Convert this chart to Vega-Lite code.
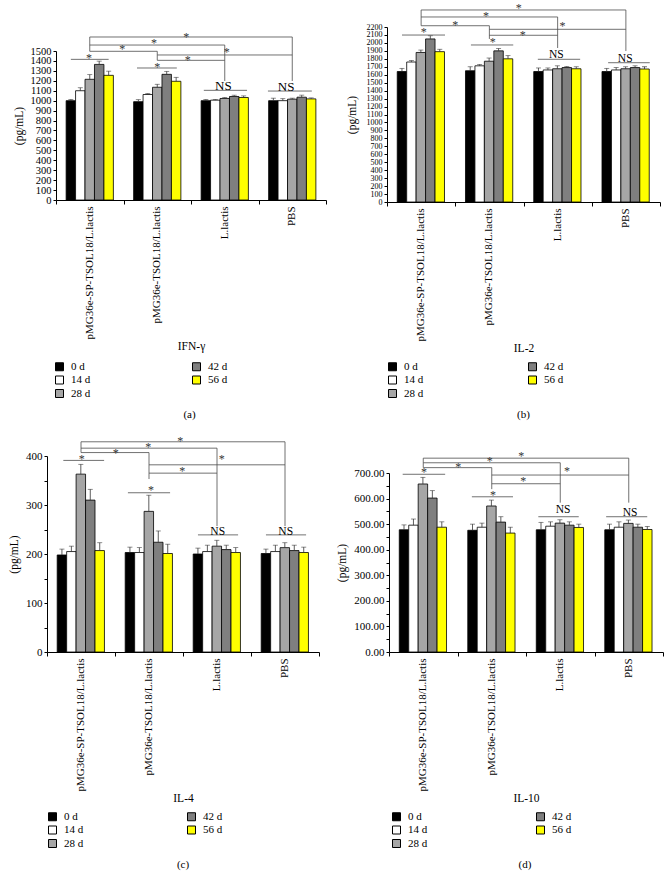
{
"$schema":"https://vega.github.io/schema/vega-lite/v6.json",
"padding":{"left":8,"top":1,"right":2,"bottom":2},
"config":{"font":"Liberation Serif","view":{"stroke":null},
"axis":{"labelFont":"Liberation Serif","titleFont":"Liberation Serif","labelFontSize":10.5,"titleFontSize":11.5,"titleFontWeight":"normal","labelColor":"#000","titleColor":"#000","domainColor":"#000","tickColor":"#000","grid":false,"labelOverlap":false},
"legend":{"labelFont":"Liberation Serif","labelFontSize":11,"labelColor":"#000"},
"title":{"font":"Liberation Serif","fontSize":11,"fontWeight":"normal","color":"#000"},
"text":{"font":"Liberation Serif"}},
"datasets":{
"bars":[
{"p":"a","g":"pMG36e-SP-TSOL18/L.lactis","t":"0 d","v":1000,"hi":1012},
{"p":"a","g":"pMG36e-SP-TSOL18/L.lactis","t":"14 d","v":1100,"hi":1130},
{"p":"a","g":"pMG36e-SP-TSOL18/L.lactis","t":"28 d","v":1215,"hi":1262},
{"p":"a","g":"pMG36e-SP-TSOL18/L.lactis","t":"42 d","v":1365,"hi":1398},
{"p":"a","g":"pMG36e-SP-TSOL18/L.lactis","t":"56 d","v":1255,"hi":1297},
{"p":"a","g":"pMG36e-TSOL18/L.lactis","t":"0 d","v":990,"hi":1010},
{"p":"a","g":"pMG36e-TSOL18/L.lactis","t":"14 d","v":1062,"hi":1072},
{"p":"a","g":"pMG36e-TSOL18/L.lactis","t":"28 d","v":1135,"hi":1165},
{"p":"a","g":"pMG36e-TSOL18/L.lactis","t":"42 d","v":1265,"hi":1295},
{"p":"a","g":"pMG36e-TSOL18/L.lactis","t":"56 d","v":1195,"hi":1235},
{"p":"a","g":"L.lactis","t":"0 d","v":1000,"hi":1012},
{"p":"a","g":"L.lactis","t":"14 d","v":1005,"hi":1012},
{"p":"a","g":"L.lactis","t":"28 d","v":1022,"hi":1032},
{"p":"a","g":"L.lactis","t":"42 d","v":1042,"hi":1055},
{"p":"a","g":"L.lactis","t":"56 d","v":1032,"hi":1048},
{"p":"a","g":"PBS","t":"0 d","v":1000,"hi":1025},
{"p":"a","g":"PBS","t":"14 d","v":1000,"hi":1020},
{"p":"a","g":"PBS","t":"28 d","v":1015,"hi":1025},
{"p":"a","g":"PBS","t":"42 d","v":1035,"hi":1055},
{"p":"a","g":"PBS","t":"56 d","v":1018,"hi":1028},
{"p":"b","g":"pMG36e-SP-TSOL18/L.lactis","t":"0 d","v":1640,"hi":1680},
{"p":"b","g":"pMG36e-SP-TSOL18/L.lactis","t":"14 d","v":1760,"hi":1778},
{"p":"b","g":"pMG36e-SP-TSOL18/L.lactis","t":"28 d","v":1880,"hi":1910},
{"p":"b","g":"pMG36e-SP-TSOL18/L.lactis","t":"42 d","v":2050,"hi":2090},
{"p":"b","g":"pMG36e-SP-TSOL18/L.lactis","t":"56 d","v":1890,"hi":1920},
{"p":"b","g":"pMG36e-TSOL18/L.lactis","t":"0 d","v":1650,"hi":1700},
{"p":"b","g":"pMG36e-TSOL18/L.lactis","t":"14 d","v":1712,"hi":1730},
{"p":"b","g":"pMG36e-TSOL18/L.lactis","t":"28 d","v":1770,"hi":1810},
{"p":"b","g":"pMG36e-TSOL18/L.lactis","t":"42 d","v":1900,"hi":1930},
{"p":"b","g":"pMG36e-TSOL18/L.lactis","t":"56 d","v":1800,"hi":1840},
{"p":"b","g":"L.lactis","t":"0 d","v":1640,"hi":1685},
{"p":"b","g":"L.lactis","t":"14 d","v":1660,"hi":1685},
{"p":"b","g":"L.lactis","t":"28 d","v":1675,"hi":1712},
{"p":"b","g":"L.lactis","t":"42 d","v":1690,"hi":1705},
{"p":"b","g":"L.lactis","t":"56 d","v":1675,"hi":1700},
{"p":"b","g":"PBS","t":"0 d","v":1640,"hi":1680},
{"p":"b","g":"PBS","t":"14 d","v":1660,"hi":1690},
{"p":"b","g":"PBS","t":"28 d","v":1675,"hi":1700},
{"p":"b","g":"PBS","t":"42 d","v":1690,"hi":1712},
{"p":"b","g":"PBS","t":"56 d","v":1672,"hi":1700},
{"p":"c","g":"pMG36e-SP-TSOL18/L.lactis","t":"0 d","v":198,"hi":210},
{"p":"c","g":"pMG36e-SP-TSOL18/L.lactis","t":"14 d","v":205,"hi":216},
{"p":"c","g":"pMG36e-SP-TSOL18/L.lactis","t":"28 d","v":363,"hi":383},
{"p":"c","g":"pMG36e-SP-TSOL18/L.lactis","t":"42 d","v":310,"hi":332},
{"p":"c","g":"pMG36e-SP-TSOL18/L.lactis","t":"56 d","v":207,"hi":223},
{"p":"c","g":"pMG36e-TSOL18/L.lactis","t":"0 d","v":203,"hi":214},
{"p":"c","g":"pMG36e-TSOL18/L.lactis","t":"14 d","v":203,"hi":213},
{"p":"c","g":"pMG36e-TSOL18/L.lactis","t":"28 d","v":287,"hi":320},
{"p":"c","g":"pMG36e-TSOL18/L.lactis","t":"42 d","v":224,"hi":247},
{"p":"c","g":"pMG36e-TSOL18/L.lactis","t":"56 d","v":201,"hi":220},
{"p":"c","g":"L.lactis","t":"0 d","v":200,"hi":212},
{"p":"c","g":"L.lactis","t":"14 d","v":205,"hi":218},
{"p":"c","g":"L.lactis","t":"28 d","v":216,"hi":228},
{"p":"c","g":"L.lactis","t":"42 d","v":209,"hi":218},
{"p":"c","g":"L.lactis","t":"56 d","v":203,"hi":213},
{"p":"c","g":"PBS","t":"0 d","v":201,"hi":210},
{"p":"c","g":"PBS","t":"14 d","v":205,"hi":218},
{"p":"c","g":"PBS","t":"28 d","v":213,"hi":223},
{"p":"c","g":"PBS","t":"42 d","v":207,"hi":218},
{"p":"c","g":"PBS","t":"56 d","v":203,"hi":214},
{"p":"d","g":"pMG36e-SP-TSOL18/L.lactis","t":"0 d","v":478,"hi":497},
{"p":"d","g":"pMG36e-SP-TSOL18/L.lactis","t":"14 d","v":496,"hi":520},
{"p":"d","g":"pMG36e-SP-TSOL18/L.lactis","t":"28 d","v":657,"hi":683},
{"p":"d","g":"pMG36e-SP-TSOL18/L.lactis","t":"42 d","v":602,"hi":631},
{"p":"d","g":"pMG36e-SP-TSOL18/L.lactis","t":"56 d","v":488,"hi":509},
{"p":"d","g":"pMG36e-TSOL18/L.lactis","t":"0 d","v":476,"hi":500},
{"p":"d","g":"pMG36e-TSOL18/L.lactis","t":"14 d","v":488,"hi":504},
{"p":"d","g":"pMG36e-TSOL18/L.lactis","t":"28 d","v":571,"hi":594},
{"p":"d","g":"pMG36e-TSOL18/L.lactis","t":"42 d","v":508,"hi":529},
{"p":"d","g":"pMG36e-TSOL18/L.lactis","t":"56 d","v":465,"hi":488},
{"p":"d","g":"L.lactis","t":"0 d","v":478,"hi":507},
{"p":"d","g":"L.lactis","t":"14 d","v":492,"hi":509},
{"p":"d","g":"L.lactis","t":"28 d","v":504,"hi":517},
{"p":"d","g":"L.lactis","t":"42 d","v":496,"hi":509},
{"p":"d","g":"L.lactis","t":"56 d","v":487,"hi":500},
{"p":"d","g":"PBS","t":"0 d","v":478,"hi":500},
{"p":"d","g":"PBS","t":"14 d","v":488,"hi":509},
{"p":"d","g":"PBS","t":"28 d","v":503,"hi":516},
{"p":"d","g":"PBS","t":"42 d","v":488,"hi":500},
{"p":"d","g":"PBS","t":"56 d","v":479,"hi":491}
],
"seg":[
{"p":"a","x1":0.5,"x2":3.5,"y1":1641,"y2":1641},
{"p":"a","x1":0.5,"x2":2.5,"y1":1560,"y2":1560},
{"p":"a","x1":0.5,"x2":1.5,"y1":1497,"y2":1497},
{"p":"a","x1":1.5,"x2":3.5,"y1":1460,"y2":1460},
{"p":"a","x1":1.5,"x2":2.5,"y1":1406,"y2":1406},
{"p":"a","x1":0.22,"x2":0.78,"y1":1416,"y2":1416},
{"p":"a","x1":1.2,"x2":1.79,"y1":1329,"y2":1329},
{"p":"a","x1":2.19,"x2":2.83,"y1":1104,"y2":1104},
{"p":"a","x1":3.14,"x2":3.79,"y1":1097,"y2":1097},
{"p":"a","x1":0.5,"x2":0.5,"y1":1641,"y2":1497},
{"p":"a","x1":1.5,"x2":1.5,"y1":1497,"y2":1406},
{"p":"a","x1":2.5,"x2":2.5,"y1":1560,"y2":1198},
{"p":"a","x1":3.5,"x2":3.5,"y1":1641,"y2":1198},
{"p":"b","x1":0.5,"x2":3.5,"y1":2414,"y2":2414},
{"p":"b","x1":0.5,"x2":2.5,"y1":2326,"y2":2326},
{"p":"b","x1":0.5,"x2":1.5,"y1":2216,"y2":2216},
{"p":"b","x1":1.5,"x2":3.5,"y1":2171,"y2":2171},
{"p":"b","x1":1.5,"x2":2.5,"y1":2096,"y2":2096},
{"p":"b","x1":0.22,"x2":0.85,"y1":2099,"y2":2099},
{"p":"b","x1":1.23,"x2":1.85,"y1":1974,"y2":1974},
{"p":"b","x1":2.21,"x2":2.83,"y1":1794,"y2":1794},
{"p":"b","x1":3.24,"x2":3.85,"y1":1751,"y2":1751},
{"p":"b","x1":0.5,"x2":0.5,"y1":2414,"y2":2216},
{"p":"b","x1":1.5,"x2":1.5,"y1":2216,"y2":2050},
{"p":"b","x1":2.5,"x2":2.5,"y1":2326,"y2":1936},
{"p":"b","x1":3.5,"x2":3.5,"y1":2414,"y2":1898},
{"p":"c","x1":0.5,"x2":3.5,"y1":429,"y2":429},
{"p":"c","x1":0.5,"x2":2.5,"y1":416,"y2":416},
{"p":"c","x1":0.5,"x2":1.5,"y1":407,"y2":407},
{"p":"c","x1":1.5,"x2":3.5,"y1":382,"y2":382},
{"p":"c","x1":1.5,"x2":2.5,"y1":365,"y2":365},
{"p":"c","x1":0.24,"x2":0.84,"y1":391,"y2":391},
{"p":"c","x1":1.19,"x2":1.81,"y1":325,"y2":325},
{"p":"c","x1":2.22,"x2":2.81,"y1":239,"y2":239},
{"p":"c","x1":3.22,"x2":3.81,"y1":239,"y2":239},
{"p":"c","x1":0.5,"x2":0.5,"y1":429,"y2":407},
{"p":"c","x1":1.5,"x2":1.5,"y1":407,"y2":353},
{"p":"c","x1":2.5,"x2":2.5,"y1":416,"y2":257},
{"p":"c","x1":3.5,"x2":3.5,"y1":429,"y2":257},
{"p":"d","x1":0.5,"x2":3.5,"y1":758,"y2":758},
{"p":"d","x1":0.5,"x2":2.5,"y1":740,"y2":740},
{"p":"d","x1":0.5,"x2":1.5,"y1":721,"y2":721},
{"p":"d","x1":1.5,"x2":3.5,"y1":692,"y2":692},
{"p":"d","x1":1.5,"x2":2.5,"y1":658,"y2":658},
{"p":"d","x1":0.2,"x2":0.82,"y1":695,"y2":695},
{"p":"d","x1":1.21,"x2":1.81,"y1":607,"y2":607},
{"p":"d","x1":2.18,"x2":2.77,"y1":529,"y2":529},
{"p":"d","x1":3.17,"x2":3.77,"y1":529,"y2":529},
{"p":"d","x1":0.5,"x2":0.5,"y1":758,"y2":721},
{"p":"d","x1":1.5,"x2":1.5,"y1":721,"y2":637},
{"p":"d","x1":2.5,"x2":2.5,"y1":740,"y2":584},
{"p":"d","x1":3.5,"x2":3.5,"y1":758,"y2":584}
],
"lab":[
{"p":"a","x":1.93,"y":1641,"s":"*"},{"p":"a","x":1.45,"y":1580,"s":"*"},{"p":"a","x":0.98,"y":1520,"s":"*"},{"p":"a","x":2.53,"y":1490,"s":"*"},{"p":"a","x":1.95,"y":1412,"s":"*"},{"p":"a","x":0.49,"y":1430,"s":"*"},{"p":"a","x":1.5,"y":1336,"s":"*"},{"p":"a","x":2.48,"y":1148,"s":"NS"},{"p":"a","x":3.41,"y":1138,"s":"NS"},
{"p":"b","x":1.93,"y":2439,"s":"*"},{"p":"b","x":1.45,"y":2338,"s":"*"},{"p":"b","x":1.0,"y":2229,"s":"*"},{"p":"b","x":2.57,"y":2209,"s":"*"},{"p":"b","x":1.99,"y":2103,"s":"*"},{"p":"b","x":0.54,"y":2133,"s":"*"},{"p":"b","x":1.55,"y":2008,"s":"*"},{"p":"b","x":2.48,"y":1844,"s":"NS"},{"p":"b","x":3.49,"y":1801,"s":"NS"},
{"p":"c","x":1.96,"y":431,"s":"*"},{"p":"c","x":1.49,"y":418,"s":"*"},{"p":"c","x":1.01,"y":406,"s":"*"},{"p":"c","x":2.57,"y":394,"s":"*"},{"p":"c","x":1.99,"y":369,"s":"*"},{"p":"c","x":0.51,"y":394,"s":"*"},{"p":"c","x":1.53,"y":331,"s":"*"},{"p":"c","x":2.51,"y":245,"s":"NS"},{"p":"c","x":3.51,"y":245,"s":"NS"},
{"p":"d","x":1.93,"y":765,"s":"*"},{"p":"d","x":1.47,"y":746,"s":"*"},{"p":"d","x":1.01,"y":722,"s":"*"},{"p":"d","x":2.6,"y":707,"s":"*"},{"p":"d","x":1.96,"y":668,"s":"*"},{"p":"d","x":0.51,"y":703,"s":"*"},{"p":"d","x":1.52,"y":615,"s":"*"},{"p":"d","x":2.54,"y":554,"s":"NS"},{"p":"d","x":3.52,"y":544,"s":"NS"}
]
},
"columns":2,
"bounds":"flush",
"spacing":{"row":254,"column":61},
"resolve":{"scale":{"fill":"independent"},"legend":{"fill":"independent"}},
"concat":[
{
"width":279,"height":173,
"title":{"text":"(a)","orient":"bottom","frame":"group","anchor":"middle","offset":9,"dx":3},
"layer":[
{"data":{"name":"bars"},"transform":[{"filter":"datum.p === 'a'"}],
"encoding":{
"x":{"field":"g","type":"nominal","sort":["pMG36e-SP-TSOL18/L.lactis","pMG36e-TSOL18/L.lactis","L.lactis","PBS"],"scale":{"range":[9,279],"paddingInner":0.3,"paddingOuter":0.15},"axis":{"orient":"bottom","domain":false,"ticks":false,"labelAngle":-90,"labelPadding":6,"labelFontSize":11,"title":"IFN-γ","titlePadding":2}},
"xOffset":{"field":"t","type":"nominal","sort":["0 d","14 d","28 d","42 d","56 d"]}},
"layer":[
{"mark":{"type":"bar","stroke":"#000","strokeWidth":0.8},
"encoding":{"y":{"field":"v","type":"quantitative","scale":{"domain":[0,1500],"range":[173,24],"nice":false},"axis":{"orient":"left","offset":-9,"values":[0,100,200,300,400,500,600,700,800,900,1000,1100,1200,1300,1400,1500],"format":"d","labelOverlap":false,"labelFlush":false,"tickSize":3,"labelPadding":2,"title":"(pg/mL)","titlePadding":6}},
"fill":{"field":"t","type":"nominal","scale":{"domain":["0 d","14 d","28 d","42 d","56 d"],"range":["#000000","#ffffff","#a6a6a6","#7f7f7f","#ffff00"]},"legend":{"title":null,"orient":"none","legendX":7,"legendY":334,"columns":2,"columnPadding":99,"rowPadding":0.5,"symbolType":"square","symbolSize":64,"symbolStrokeColor":"#000","symbolStrokeWidth":1,"labelOffset":6,"padding":0}}}},
{"mark":{"type":"rule","color":"#333","strokeWidth":0.8},"encoding":{"y":{"field":"v","type":"quantitative","scale":{"domain":[0,1500],"range":[173,24],"nice":false},"axis":{"orient":"left","offset":-9,"values":[0,100,200,300,400,500,600,700,800,900,1000,1100,1200,1300,1400,1500],"format":"d","labelOverlap":false,"labelFlush":false,"tickSize":3,"labelPadding":2,"title":"(pg/mL)","titlePadding":6}},"y2":{"field":"hi"}}},
{"mark":{"type":"tick","color":"#333","size":5,"thickness":0.8},"encoding":{"y":{"field":"hi","type":"quantitative","scale":{"domain":[0,1500],"range":[173,24],"nice":false},"axis":{"orient":"left","offset":-9,"values":[0,100,200,300,400,500,600,700,800,900,1000,1100,1200,1300,1400,1500],"format":"d","labelOverlap":false,"labelFlush":false,"tickSize":3,"labelPadding":2,"title":"(pg/mL)","titlePadding":6}}}}
]},
{"layer":[
{"data":{"name":"seg"},"transform":[{"filter":"datum.p === 'a'"}],"mark":{"type":"rule","color":"#4d4d4d","strokeWidth":0.8},
"encoding":{"x":{"field":"x1","type":"quantitative","scale":{"domain":[0,4],"range":[9,279],"nice":false,"zero":false},"axis":{"orient":"bottom","values":[0,1,2,3,4],"labels":false,"tickSize":4,"title":null,"domain":true}},"x2":{"field":"x2"},
"y":{"field":"y1","type":"quantitative","scale":{"domain":[0,1500],"range":[173,24],"nice":false},"axis":{"orient":"left","offset":-9,"values":[0,100,200,300,400,500,600,700,800,900,1000,1100,1200,1300,1400,1500],"format":"d","labelOverlap":false,"labelFlush":false,"tickSize":3,"labelPadding":2,"title":"(pg/mL)","titlePadding":6}},"y2":{"field":"y2"}}},
{"data":{"name":"lab"},"transform":[{"filter":"datum.p === 'a' && datum.s === '*'"}],"mark":{"type":"text","fontSize":12,"baseline":"middle","color":"#333"},
"encoding":{"x":{"field":"x","type":"quantitative","scale":{"domain":[0,4],"range":[9,279],"nice":false,"zero":false},"axis":{"orient":"bottom","values":[0,1,2,3,4],"labels":false,"tickSize":4,"title":null,"domain":true}},"y":{"field":"y","type":"quantitative","scale":{"domain":[0,1500],"range":[173,24],"nice":false},"axis":{"orient":"left","offset":-9,"values":[0,100,200,300,400,500,600,700,800,900,1000,1100,1200,1300,1400,1500],"format":"d","labelOverlap":false,"labelFlush":false,"tickSize":3,"labelPadding":2,"title":"(pg/mL)","titlePadding":6}},"text":{"field":"s"}}},
{"data":{"name":"lab"},"transform":[{"filter":"datum.p === 'a' && datum.s === 'NS'"}],"mark":{"type":"text","fontSize":13,"baseline":"middle","color":"#000"},
"encoding":{"x":{"field":"x","type":"quantitative","scale":{"domain":[0,4],"range":[9,279],"nice":false,"zero":false},"axis":{"orient":"bottom","values":[0,1,2,3,4],"labels":false,"tickSize":4,"title":null,"domain":true}},"y":{"field":"y","type":"quantitative","scale":{"domain":[0,1500],"range":[173,24],"nice":false},"axis":{"orient":"left","offset":-9,"values":[0,100,200,300,400,500,600,700,800,900,1000,1100,1200,1300,1400,1500],"format":"d","labelOverlap":false,"labelFlush":false,"tickSize":3,"labelPadding":2,"title":"(pg/mL)","titlePadding":6}},"text":{"field":"s"}}}
]}
],
"resolve":{"scale":{"x":"independent"}}
},
{
"width":273,"height":175,
"title":{"text":"(b)","orient":"bottom","frame":"group","anchor":"middle","offset":9},
"layer":[
{"data":{"name":"bars"},"transform":[{"filter":"datum.p === 'b'"}],
"encoding":{
"x":{"field":"g","type":"nominal","sort":["pMG36e-SP-TSOL18/L.lactis","pMG36e-TSOL18/L.lactis","L.lactis","PBS"],"scale":{"range":[0,273],"paddingInner":0.3,"paddingOuter":0.15},"axis":{"orient":"bottom","domain":false,"ticks":false,"labelAngle":-90,"labelPadding":6,"labelFontSize":11,"title":"IL-2","titlePadding":2}},
"xOffset":{"field":"t","type":"nominal","sort":["0 d","14 d","28 d","42 d","56 d"]}},
"layer":[
{"mark":{"type":"bar","stroke":"#000","strokeWidth":0.8},
"encoding":{"y":{"field":"v","type":"quantitative","scale":{"domain":[0,2200],"range":[175,0],"nice":false},"axis":{"orient":"left","values":[0,100,200,300,400,500,600,700,800,900,1000,1100,1200,1300,1400,1500,1600,1700,1800,1900,2000,2100,2200],"format":"d","labelOverlap":false,"labelFlush":false,"labelFontSize":8,"tickSize":3,"labelPadding":2,"title":"(pg/mL)","titlePadding":9}},
"fill":{"field":"t","type":"nominal","scale":{"domain":["0 d","14 d","28 d","42 d","56 d"],"range":["#000000","#ffffff","#a6a6a6","#7f7f7f","#ffff00"]},"legend":{"title":null,"orient":"none","legendX":0,"legendY":334,"columns":2,"columnPadding":102,"rowPadding":0.5,"symbolType":"square","symbolSize":64,"symbolStrokeColor":"#000","symbolStrokeWidth":1,"labelOffset":6,"padding":0}}}},
{"mark":{"type":"rule","color":"#333","strokeWidth":0.8},"encoding":{"y":{"field":"v","type":"quantitative","scale":{"domain":[0,2200],"range":[175,0],"nice":false},"axis":{"orient":"left","values":[0,100,200,300,400,500,600,700,800,900,1000,1100,1200,1300,1400,1500,1600,1700,1800,1900,2000,2100,2200],"format":"d","labelOverlap":false,"labelFlush":false,"labelFontSize":8,"tickSize":3,"labelPadding":2,"title":"(pg/mL)","titlePadding":9}},"y2":{"field":"hi"}}},
{"mark":{"type":"tick","color":"#333","size":5,"thickness":0.8},"encoding":{"y":{"field":"hi","type":"quantitative","scale":{"domain":[0,2200],"range":[175,0],"nice":false},"axis":{"orient":"left","values":[0,100,200,300,400,500,600,700,800,900,1000,1100,1200,1300,1400,1500,1600,1700,1800,1900,2000,2100,2200],"format":"d","labelOverlap":false,"labelFlush":false,"labelFontSize":8,"tickSize":3,"labelPadding":2,"title":"(pg/mL)","titlePadding":9}}}}
]},
{"layer":[
{"data":{"name":"seg"},"transform":[{"filter":"datum.p === 'b'"}],"mark":{"type":"rule","color":"#4d4d4d","strokeWidth":0.8},
"encoding":{"x":{"field":"x1","type":"quantitative","scale":{"domain":[0,4],"range":[0,273],"nice":false,"zero":false},"axis":{"orient":"bottom","values":[0,1,2,3,4],"labels":false,"tickSize":4,"title":null,"domain":true}},"x2":{"field":"x2"},
"y":{"field":"y1","type":"quantitative","scale":{"domain":[0,2200],"range":[175,0],"nice":false},"axis":{"orient":"left","values":[0,100,200,300,400,500,600,700,800,900,1000,1100,1200,1300,1400,1500,1600,1700,1800,1900,2000,2100,2200],"format":"d","labelOverlap":false,"labelFlush":false,"labelFontSize":8,"tickSize":3,"labelPadding":2,"title":"(pg/mL)","titlePadding":9}},"y2":{"field":"y2"}}},
{"data":{"name":"lab"},"transform":[{"filter":"datum.p === 'b' && datum.s === '*'"}],"mark":{"type":"text","fontSize":12,"baseline":"middle","color":"#333"},
"encoding":{"x":{"field":"x","type":"quantitative","scale":{"domain":[0,4],"range":[0,273],"nice":false,"zero":false},"axis":{"orient":"bottom","values":[0,1,2,3,4],"labels":false,"tickSize":4,"title":null,"domain":true}},"y":{"field":"y","type":"quantitative","scale":{"domain":[0,2200],"range":[175,0],"nice":false},"axis":{"orient":"left","values":[0,100,200,300,400,500,600,700,800,900,1000,1100,1200,1300,1400,1500,1600,1700,1800,1900,2000,2100,2200],"format":"d","labelOverlap":false,"labelFlush":false,"labelFontSize":8,"tickSize":3,"labelPadding":2,"title":"(pg/mL)","titlePadding":9}},"text":{"field":"s"}}},
{"data":{"name":"lab"},"transform":[{"filter":"datum.p === 'b' && datum.s === 'NS'"}],"mark":{"type":"text","fontSize":11.5,"baseline":"middle","color":"#000"},
"encoding":{"x":{"field":"x","type":"quantitative","scale":{"domain":[0,4],"range":[0,273],"nice":false,"zero":false},"axis":{"orient":"bottom","values":[0,1,2,3,4],"labels":false,"tickSize":4,"title":null,"domain":true}},"y":{"field":"y","type":"quantitative","scale":{"domain":[0,2200],"range":[175,0],"nice":false},"axis":{"orient":"left","values":[0,100,200,300,400,500,600,700,800,900,1000,1100,1200,1300,1400,1500,1600,1700,1800,1900,2000,2100,2200],"format":"d","labelOverlap":false,"labelFlush":false,"labelFontSize":8,"tickSize":3,"labelPadding":2,"title":"(pg/mL)","titlePadding":9}},"text":{"field":"s"}}}
]}
],
"resolve":{"scale":{"x":"independent"}}
},
{
"width":272,"height":196,
"title":{"text":"(c)","orient":"bottom","frame":"group","anchor":"middle","offset":9},
"layer":[
{"data":{"name":"bars"},"transform":[{"filter":"datum.p === 'c'"}],
"encoding":{
"x":{"field":"g","type":"nominal","sort":["pMG36e-SP-TSOL18/L.lactis","pMG36e-TSOL18/L.lactis","L.lactis","PBS"],"scale":{"range":[0,272],"paddingInner":0.3,"paddingOuter":0.15},"axis":{"orient":"bottom","domain":false,"ticks":false,"labelAngle":-90,"labelPadding":6,"labelFontSize":11,"title":"IL-4","titlePadding":2}},
"xOffset":{"field":"t","type":"nominal","sort":["0 d","14 d","28 d","42 d","56 d"]}},
"layer":[
{"mark":{"type":"bar","stroke":"#000","strokeWidth":0.8},
"encoding":{"y":{"field":"v","type":"quantitative","scale":{"domain":[0,400],"range":[196,0],"nice":false},"axis":{"orient":"left","values":[0,50,100,150,200,250,300,350,400],"format":"d","labelExpr":"datum.value % 100 === 0 ? datum.label : ''","labelOverlap":false,"labelFlush":false,"labelFontSize":11,"tickSize":3,"labelPadding":2,"title":"(pg/mL)","titlePadding":6}},
"fill":{"field":"t","type":"nominal","scale":{"domain":["0 d","14 d","28 d","42 d","56 d"],"range":["#000000","#ffffff","#a6a6a6","#7f7f7f","#ffff00"]},"legend":{"title":null,"orient":"none","legendX":0,"legendY":355,"columns":2,"columnPadding":101,"rowPadding":0.5,"symbolType":"square","symbolSize":64,"symbolStrokeColor":"#000","symbolStrokeWidth":1,"labelOffset":6,"padding":0}}}},
{"mark":{"type":"rule","color":"#333","strokeWidth":0.8},"encoding":{"y":{"field":"v","type":"quantitative","scale":{"domain":[0,400],"range":[196,0],"nice":false},"axis":{"orient":"left","values":[0,50,100,150,200,250,300,350,400],"format":"d","labelExpr":"datum.value % 100 === 0 ? datum.label : ''","labelOverlap":false,"labelFlush":false,"labelFontSize":11,"tickSize":3,"labelPadding":2,"title":"(pg/mL)","titlePadding":6}},"y2":{"field":"hi"}}},
{"mark":{"type":"tick","color":"#333","size":5,"thickness":0.8},"encoding":{"y":{"field":"hi","type":"quantitative","scale":{"domain":[0,400],"range":[196,0],"nice":false},"axis":{"orient":"left","values":[0,50,100,150,200,250,300,350,400],"format":"d","labelExpr":"datum.value % 100 === 0 ? datum.label : ''","labelOverlap":false,"labelFlush":false,"labelFontSize":11,"tickSize":3,"labelPadding":2,"title":"(pg/mL)","titlePadding":6}}}}
]},
{"layer":[
{"data":{"name":"seg"},"transform":[{"filter":"datum.p === 'c'"}],"mark":{"type":"rule","color":"#4d4d4d","strokeWidth":0.8},
"encoding":{"x":{"field":"x1","type":"quantitative","scale":{"domain":[0,4],"range":[0,272],"nice":false,"zero":false},"axis":{"orient":"bottom","values":[0,1,2,3,4],"labels":false,"tickSize":4,"title":null,"domain":true}},"x2":{"field":"x2"},
"y":{"field":"y1","type":"quantitative","scale":{"domain":[0,400],"range":[196,0],"nice":false},"axis":{"orient":"left","values":[0,50,100,150,200,250,300,350,400],"format":"d","labelExpr":"datum.value % 100 === 0 ? datum.label : ''","labelOverlap":false,"labelFlush":false,"labelFontSize":11,"tickSize":3,"labelPadding":2,"title":"(pg/mL)","titlePadding":6}},"y2":{"field":"y2"}}},
{"data":{"name":"lab"},"transform":[{"filter":"datum.p === 'c' && datum.s === '*'"}],"mark":{"type":"text","fontSize":12,"baseline":"middle","color":"#333"},
"encoding":{"x":{"field":"x","type":"quantitative","scale":{"domain":[0,4],"range":[0,272],"nice":false,"zero":false},"axis":{"orient":"bottom","values":[0,1,2,3,4],"labels":false,"tickSize":4,"title":null,"domain":true}},"y":{"field":"y","type":"quantitative","scale":{"domain":[0,400],"range":[196,0],"nice":false},"axis":{"orient":"left","values":[0,50,100,150,200,250,300,350,400],"format":"d","labelExpr":"datum.value % 100 === 0 ? datum.label : ''","labelOverlap":false,"labelFlush":false,"labelFontSize":11,"tickSize":3,"labelPadding":2,"title":"(pg/mL)","titlePadding":6}},"text":{"field":"s"}}},
{"data":{"name":"lab"},"transform":[{"filter":"datum.p === 'c' && datum.s === 'NS'"}],"mark":{"type":"text","fontSize":11.5,"baseline":"middle","color":"#000"},
"encoding":{"x":{"field":"x","type":"quantitative","scale":{"domain":[0,4],"range":[0,272],"nice":false,"zero":false},"axis":{"orient":"bottom","values":[0,1,2,3,4],"labels":false,"tickSize":4,"title":null,"domain":true}},"y":{"field":"y","type":"quantitative","scale":{"domain":[0,400],"range":[196,0],"nice":false},"axis":{"orient":"left","values":[0,50,100,150,200,250,300,350,400],"format":"d","labelExpr":"datum.value % 100 === 0 ? datum.label : ''","labelOverlap":false,"labelFlush":false,"labelFontSize":11,"tickSize":3,"labelPadding":2,"title":"(pg/mL)","titlePadding":6}},"text":{"field":"s"}}}
]}
],
"resolve":{"scale":{"x":"independent"}}
},
{
"width":276,"height":196,
"title":{"text":"(d)","orient":"bottom","frame":"group","anchor":"middle","offset":9},
"layer":[
{"data":{"name":"bars"},"transform":[{"filter":"datum.p === 'd'"}],
"encoding":{
"x":{"field":"g","type":"nominal","sort":["pMG36e-SP-TSOL18/L.lactis","pMG36e-TSOL18/L.lactis","L.lactis","PBS"],"scale":{"range":[2,276],"paddingInner":0.3,"paddingOuter":0.15},"axis":{"orient":"bottom","domain":false,"ticks":false,"labelAngle":-90,"labelPadding":6,"labelFontSize":11,"title":"IL-10","titlePadding":2}},
"xOffset":{"field":"t","type":"nominal","sort":["0 d","14 d","28 d","42 d","56 d"]}},
"layer":[
{"mark":{"type":"bar","stroke":"#000","strokeWidth":0.8},
"encoding":{"y":{"field":"v","type":"quantitative","scale":{"domain":[0,700],"range":[196,17],"nice":false},"axis":{"orient":"left","offset":-2,"values":[0,50,100,150,200,250,300,350,400,450,500,550,600,650,700],"format":".2f","labelExpr":"datum.value % 100 === 0 ? datum.label : ''","labelOverlap":false,"labelFlush":false,"labelFontSize":11,"tickSize":3,"labelPadding":2,"title":"(pg/mL)","titlePadding":6}},
"fill":{"field":"t","type":"nominal","scale":{"domain":["0 d","14 d","28 d","42 d","56 d"],"range":["#000000","#ffffff","#a6a6a6","#7f7f7f","#ffff00"]},"legend":{"title":null,"orient":"none","legendX":4,"legendY":355,"columns":2,"columnPadding":106,"rowPadding":0.5,"symbolType":"square","symbolSize":64,"symbolStrokeColor":"#000","symbolStrokeWidth":1,"labelOffset":6,"padding":0}}}},
{"mark":{"type":"rule","color":"#333","strokeWidth":0.8},"encoding":{"y":{"field":"v","type":"quantitative","scale":{"domain":[0,700],"range":[196,17],"nice":false},"axis":{"orient":"left","offset":-2,"values":[0,50,100,150,200,250,300,350,400,450,500,550,600,650,700],"format":".2f","labelExpr":"datum.value % 100 === 0 ? datum.label : ''","labelOverlap":false,"labelFlush":false,"labelFontSize":11,"tickSize":3,"labelPadding":2,"title":"(pg/mL)","titlePadding":6}},"y2":{"field":"hi"}}},
{"mark":{"type":"tick","color":"#333","size":5,"thickness":0.8},"encoding":{"y":{"field":"hi","type":"quantitative","scale":{"domain":[0,700],"range":[196,17],"nice":false},"axis":{"orient":"left","offset":-2,"values":[0,50,100,150,200,250,300,350,400,450,500,550,600,650,700],"format":".2f","labelExpr":"datum.value % 100 === 0 ? datum.label : ''","labelOverlap":false,"labelFlush":false,"labelFontSize":11,"tickSize":3,"labelPadding":2,"title":"(pg/mL)","titlePadding":6}}}}
]},
{"layer":[
{"data":{"name":"seg"},"transform":[{"filter":"datum.p === 'd'"}],"mark":{"type":"rule","color":"#4d4d4d","strokeWidth":0.8},
"encoding":{"x":{"field":"x1","type":"quantitative","scale":{"domain":[0,4],"range":[2,276],"nice":false,"zero":false},"axis":{"orient":"bottom","values":[0,1,2,3,4],"labels":false,"tickSize":4,"title":null,"domain":true}},"x2":{"field":"x2"},
"y":{"field":"y1","type":"quantitative","scale":{"domain":[0,700],"range":[196,17],"nice":false},"axis":{"orient":"left","offset":-2,"values":[0,50,100,150,200,250,300,350,400,450,500,550,600,650,700],"format":".2f","labelExpr":"datum.value % 100 === 0 ? datum.label : ''","labelOverlap":false,"labelFlush":false,"labelFontSize":11,"tickSize":3,"labelPadding":2,"title":"(pg/mL)","titlePadding":6}},"y2":{"field":"y2"}}},
{"data":{"name":"lab"},"transform":[{"filter":"datum.p === 'd' && datum.s === '*'"}],"mark":{"type":"text","fontSize":12,"baseline":"middle","color":"#333"},
"encoding":{"x":{"field":"x","type":"quantitative","scale":{"domain":[0,4],"range":[2,276],"nice":false,"zero":false},"axis":{"orient":"bottom","values":[0,1,2,3,4],"labels":false,"tickSize":4,"title":null,"domain":true}},"y":{"field":"y","type":"quantitative","scale":{"domain":[0,700],"range":[196,17],"nice":false},"axis":{"orient":"left","offset":-2,"values":[0,50,100,150,200,250,300,350,400,450,500,550,600,650,700],"format":".2f","labelExpr":"datum.value % 100 === 0 ? datum.label : ''","labelOverlap":false,"labelFlush":false,"labelFontSize":11,"tickSize":3,"labelPadding":2,"title":"(pg/mL)","titlePadding":6}},"text":{"field":"s"}}},
{"data":{"name":"lab"},"transform":[{"filter":"datum.p === 'd' && datum.s === 'NS'"}],"mark":{"type":"text","fontSize":11.5,"baseline":"middle","color":"#000"},
"encoding":{"x":{"field":"x","type":"quantitative","scale":{"domain":[0,4],"range":[2,276],"nice":false,"zero":false},"axis":{"orient":"bottom","values":[0,1,2,3,4],"labels":false,"tickSize":4,"title":null,"domain":true}},"y":{"field":"y","type":"quantitative","scale":{"domain":[0,700],"range":[196,17],"nice":false},"axis":{"orient":"left","offset":-2,"values":[0,50,100,150,200,250,300,350,400,450,500,550,600,650,700],"format":".2f","labelExpr":"datum.value % 100 === 0 ? datum.label : ''","labelOverlap":false,"labelFlush":false,"labelFontSize":11,"tickSize":3,"labelPadding":2,"title":"(pg/mL)","titlePadding":6}},"text":{"field":"s"}}}
]}
],
"resolve":{"scale":{"x":"independent"}}
}
]
}
